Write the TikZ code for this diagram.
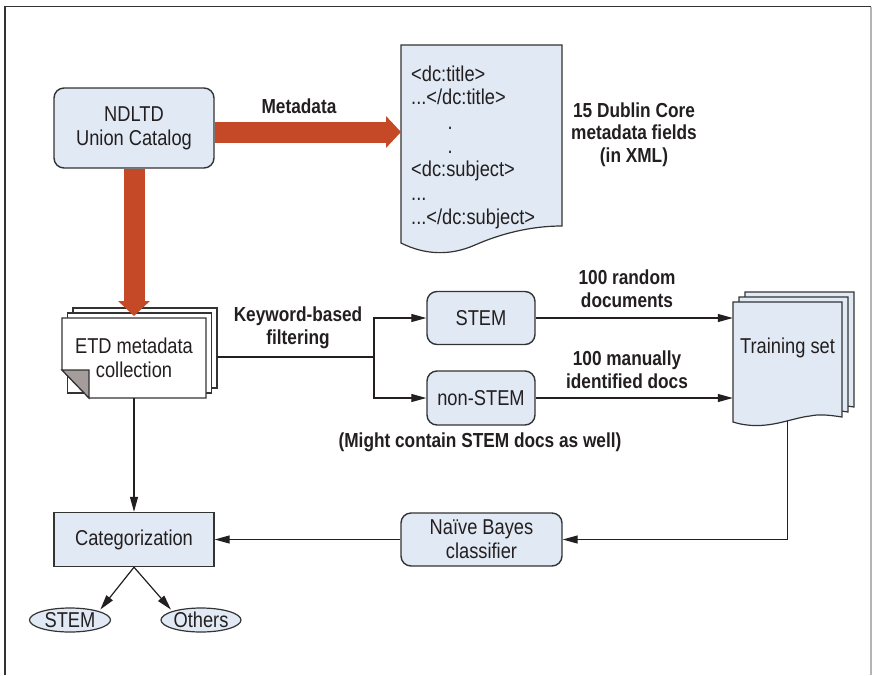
\documentclass[tikz,border=0pt]{standalone}
\usepackage{fontspec}
\setmainfont{Liberation Sans}[FakeStretch=0.85]
\usetikzlibrary{arrows.meta,shapes.geometric}
\definecolor{boxfill}{HTML}{E1EAF4}
\definecolor{boxline}{HTML}{333333}
\definecolor{bigred}{HTML}{C54827}
\definecolor{txt}{HTML}{231F20}
\definecolor{corner}{HTML}{A59D9B}
\definecolor{rframe}{HTML}{B4B4B4}
\begin{document}
\begin{tikzpicture}[x=1pt,y=-1pt,
  every node/.style={text=txt, font=\fontsize{21.5}{24}\selectfont},
  rbox/.style={draw=boxline, fill=boxfill, line width=1.4pt, rounded corners=10pt, align=center, inner sep=0pt},
  sbox/.style={draw=boxline, fill=boxfill, line width=1.4pt, inner sep=0pt, align=center},
  ell/.style={ellipse, draw=boxline, fill=boxfill, line width=1.2pt, inner sep=0pt},
  lbl/.style={font=\bfseries\fontsize{20.3}{22.6}\selectfont, align=center},
  doctxt/.style={anchor=base west, inner sep=0pt},
  sheet/.style={draw=boxline, line width=1.2pt},
  conn/.style={draw=txt, line width=1.2pt, -{Triangle[length=15pt,width=8pt]}},
  plain/.style={draw=txt, line width=1.2pt},
  bigarrow/.style={draw=bigred, line width=21pt, -{Triangle[length=15pt,width=31pt]}},
]
\useasboundingbox (0,0) rectangle (872,675);
% frame
\draw[boxline, line width=1.6pt] (5,675) -- (5,6.5) -- (871,6.5);
\draw[rframe, line width=1.2pt] (871,6.5) -- (871,675);

% document (XML)
\draw[sheet, fill=boxfill] (401,45) -- (562,45) -- (562,226)
  .. controls (530,226) and (500,234) .. (475,245)
  .. controls (450,256) and (425,255) .. (401,243) -- cycle;
\coordinate (docin) at (401,132);
\node[doctxt] (d1) at (411,81) {<dc:title>};
\node[doctxt] (d2) at (411,104.5) {...</dc:title>};
\node[doctxt] (d3) at (447.5,129) {.};
\node[doctxt] (d4) at (447.5,153.5) {.};
\node[doctxt] (d5) at (411,176.5) {<dc:subject>};
\node[doctxt] (d6) at (411,200) {...};
\node[doctxt] (d7) at (411,224) {...</dc:subject>};
\node[lbl] (dublin) at (634,134.5) {15 Dublin Core\\metadata fields\\(in XML)};

% NDLTD
\node[rbox, minimum width=160pt, minimum height=80pt] (ndltd) at (134,128) {NDLTD\\Union Catalog};

% ETD stacked sheets
\draw[sheet, fill=white] (73,308) rectangle (217,388);
\draw[sheet, fill=white] (67.5,313) rectangle (211.5,393);
\draw[sheet, fill=white] (62,318) -- (206,318) -- (206,398) -- (89,398) -- (62,370) -- cycle;
\draw[sheet, fill=corner] (62,370) -- (89,370) -- (89,398) -- cycle;
\node[align=center, minimum width=144pt, minimum height=80pt, inner sep=0pt] (etd) at (134,358) {ETD metadata\\collection};

% big arrows
\draw[bigarrow] (ndltd.east |- docin) -- (docin);
\coordinate (etdtop) at (134,316);
\draw[bigarrow] (ndltd.south) -- (etdtop);
\node[lbl] (meta) at (299,106) {Metadata};

% filtering
\node[rbox, minimum width=108pt, minimum height=53pt] (stem) at (481,318) {STEM};
\node[rbox, minimum width=108pt, minimum height=54pt] (nonstem) at (481,398) {non-STEM};
\coordinate (split) at (374,357);
\draw[plain] ([xshift=11pt]etd.east |- split) -- (split);
\draw[conn] (split) |- (stem.west);
\draw[conn] (split) |- (nonstem.west);
\node[lbl] (kw) at (298,328) {Keyword-based\\filtering};
\node[lbl] (might) at (480,442) {(Might contain STEM docs as well)};

% training set
\draw[sheet, fill=boxfill] (745,292) -- (854,292) -- (854,407)
  .. controls (841,405) and (831,404) .. (822,406)
  .. controls (802,408) and (777,422) .. (745,412) -- cycle;
\draw[sheet, fill=boxfill] (739,297) -- (848,297) -- (848,412)
  .. controls (835,410) and (825,409) .. (816,411)
  .. controls (796,413) and (771,427) .. (739,417) -- cycle;
\draw[sheet, fill=boxfill] (733,302) -- (842,302) -- (842,417)
  .. controls (829,415) and (819,414) .. (810,416)
  .. controls (790,418) and (765,432) .. (733,422) -- cycle;
\node[minimum width=109pt, minimum height=119pt, inner sep=0pt] (train) at (787.5,361.5) {};
\node (traintxt) at (787.5,348) {Training set};
\draw[conn] (stem.east) -- (stem.east -| train.west);
\draw[conn] (nonstem.east) -- (nonstem.east -| train.west);
\node[lbl] (rand) at (627,289) {100 random\\documents};
\node[lbl] (man) at (627,370) {100 manually\\identified docs};

% classifier and categorization
\node[rbox, minimum width=161pt, minimum height=53pt] (nb) at (481.5,539.5) {Naïve Bayes\\classifier};
\node[sbox, minimum width=160pt, minimum height=54pt] (cat) at (134,539.5) {Categorization};
\draw[conn] (train.south) |- (nb.east);
\draw[conn] (nb.west) -- (cat.east);
\draw[conn] (etd.south) -- (cat.north);

\node[ell, minimum width=81pt, minimum height=24pt] (stemE) at (70,620) {STEM};
\node[ell, minimum width=80pt, minimum height=24pt] (others) at (201,620) {Others};
\draw[conn, shorten >=2pt] (cat.south) -- (stemE.north east);
\draw[conn, shorten >=2pt] (cat.south) -- (others.north west);
\end{tikzpicture}
\end{document}
